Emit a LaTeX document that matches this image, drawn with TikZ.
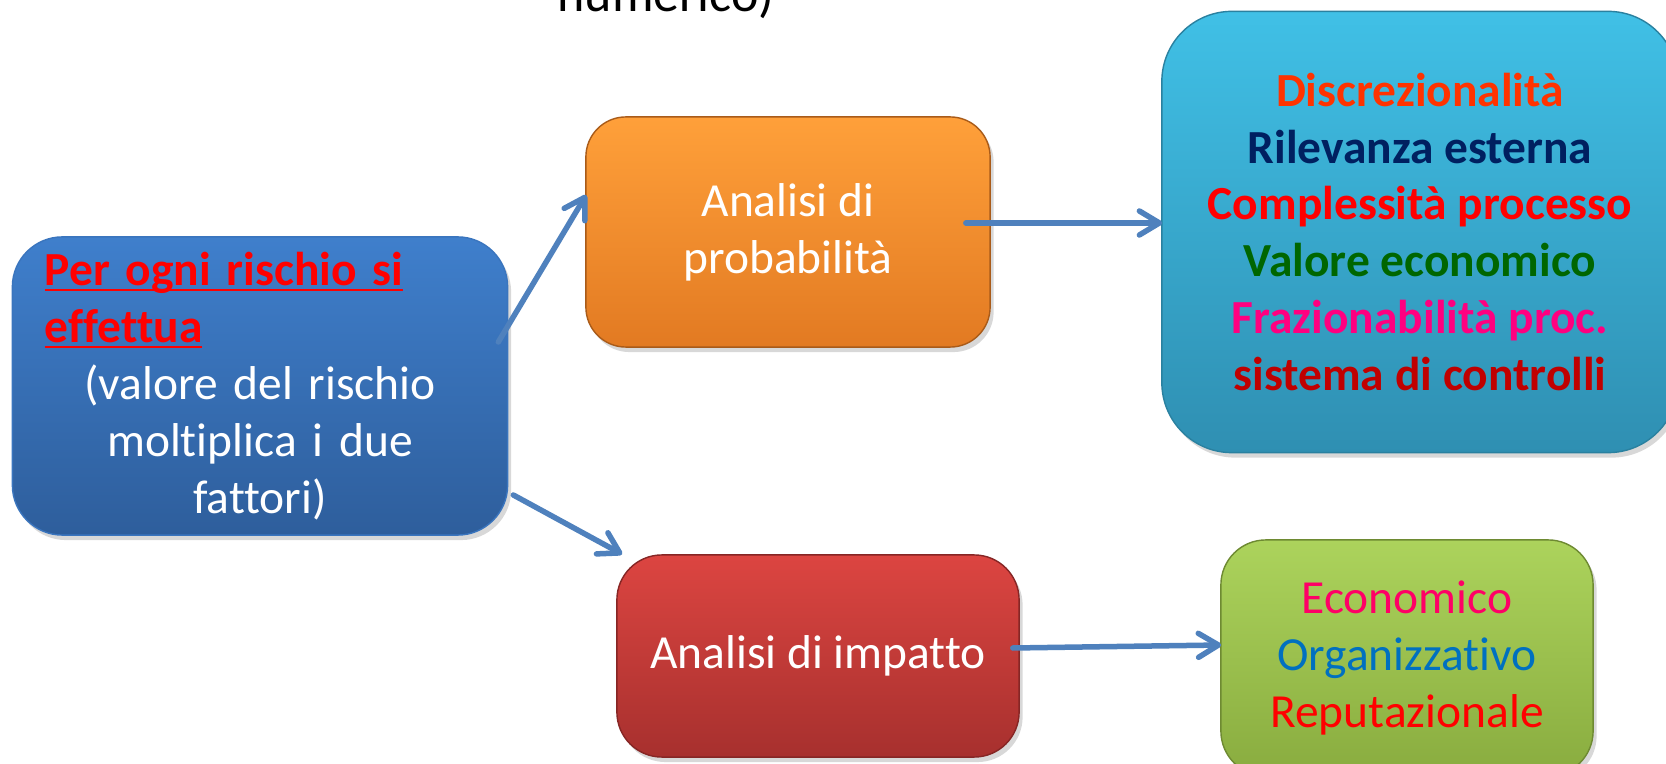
\documentclass[tikz,border=0pt]{standalone}
\usepackage{fontspec}
\setmainfont{Carlito}[Ligatures=NoCommon]
\usepackage{tikz}
\usetikzlibrary{arrows.meta,positioning,shadows}
\definecolor{riskhi}{HTML}{3F7FCC}
\definecolor{risklo}{HTML}{2E5E9C}
\definecolor{probhi}{HTML}{FFA03A}
\definecolor{problo}{HTML}{E27A22}
\definecolor{factorhi}{HTML}{40C0E6}
\definecolor{factorlo}{HTML}{2F8FB2}
\definecolor{impacthi}{HTML}{DC4541}
\definecolor{impactlo}{HTML}{A7302E}
\definecolor{effecthi}{HTML}{ACD35C}
\definecolor{effectlo}{HTML}{89AC3F}
\definecolor{link}{HTML}{4F81BD}
\definecolor{hotred}{HTML}{FF0000}
\definecolor{tangerine}{HTML}{FF3300}
\definecolor{navy}{HTML}{002060}
\definecolor{forest}{HTML}{006600}
\definecolor{fuchsia}{HTML}{FF0080}
\definecolor{darkred}{HTML}{C00000}
\definecolor{raspberry}{HTML}{FF0066}
\definecolor{ocean}{HTML}{0070C0}
\newcommand{\boxfont}{\fontsize{13.5pt}{16.2pt}\selectfont}
\newsavebox{\ulinebox}
\newcommand{\ulinetext}[1]{\sbox{\ulinebox}{#1}\rlap{\rule[-1.7pt]{\wd\ulinebox}{0.8pt}}\usebox{\ulinebox}}
\newcommand{\midline}[1]{\makebox[\linewidth][c]{#1}}
\tikzset{
  box/.style={rounded corners=0.45cm,align=center,font=\boxfont,text=white,
    inner sep=0pt,line width=0.4pt,
    drop shadow={opacity=0.3,shadow xshift=0.35mm,shadow yshift=-0.5mm}},
  arr/.style={-{Straight Barb[length=2mm,width=2.4mm,round]},line width=0.055cm,
    draw=link,line cap=round},
}
\begin{document}
\begin{tikzpicture}[x=0.01cm,y=-0.01cm]
  \useasboundingbox (0,0) rectangle (1666,764);
  \clip (0,0) rectangle (1666,764);
  \fill[white] (0,0) rectangle (1666,764);
  \node[font=\fontsize{14.8pt}{17.8pt}\selectfont,anchor=base] (title) at (666,12) {numerico)};
  % the five boxes
  \node[box,top color=riskhi,bottom color=risklo,draw=riskhi!70!risklo,
    rounded corners=0.5cm,minimum width=4.95cm,minimum height=2.98cm,
    text width=4.3cm,align=left]
    (risk) at (260,386)
    {\textcolor{hotred}{\bfseries\ulinetext{Per ogni rischio si}}\\
     \textcolor{hotred}{\bfseries\ulinetext{effettua}}\\
     \midline{(valore del rischio}\\
     \midline{moltiplica i due}\\
     \midline{fattori)}};
  \node[box,top color=probhi,bottom color=problo,draw=problo!75!black,
    rounded corners=0.4cm,minimum width=4.04cm,minimum height=2.30cm]
    (prob) at (788,232) {Analisi di\\probabilità};
  \node[box,top color=factorhi,bottom color=factorlo,draw=factorlo!90!black,
    rounded corners=0.7cm,minimum width=5.16cm,minimum height=4.41cm,font=\boxfont\bfseries]
    (factors) at (1420,232)
    {\textcolor{tangerine}{Discrezionalità}\\
     \textcolor{navy}{Rilevanza esterna}\\
     \textcolor{hotred}{Complessità processo}\\
     \textcolor{forest}{Valore economico}\\
     \textcolor{fuchsia}{Frazionabilità proc.}\\
     \textcolor{darkred}{sistema di controlli}};
  \node[box,top color=impacthi,bottom color=impactlo,draw=impactlo!80!black,
    minimum width=4.02cm,minimum height=2.02cm]
    (impact) at (818,656) {Analisi di impatto};
  \node[box,top color=effecthi,bottom color=effectlo,draw=effectlo!80!black,
    minimum width=3.72cm,minimum height=2.36cm]
    (effects) at (1407,658)
    {\textcolor{raspberry}{Economico}\\
     \textcolor{ocean}{Organizzativo}\\
     \textcolor{hotred}{Reputazionale}};
  % connectors
  \draw[arr] ([shift={(-10,-44)}]risk.east) -- ([shift={(1,-37)}]prob.west);
  \draw[arr] ([shift={(5,109)}]risk.east) -- ([shift={(6,0)}]impact.north west);
  \draw[arr] ([shift={(-25,-9)}]prob.east) -- ([shift={(1,-9)}]factors.west);
  \draw[arr] ([shift={(-7,-8)}]impact.east) -- ([shift={(1,-13)}]effects.west);
\end{tikzpicture}
\end{document}
